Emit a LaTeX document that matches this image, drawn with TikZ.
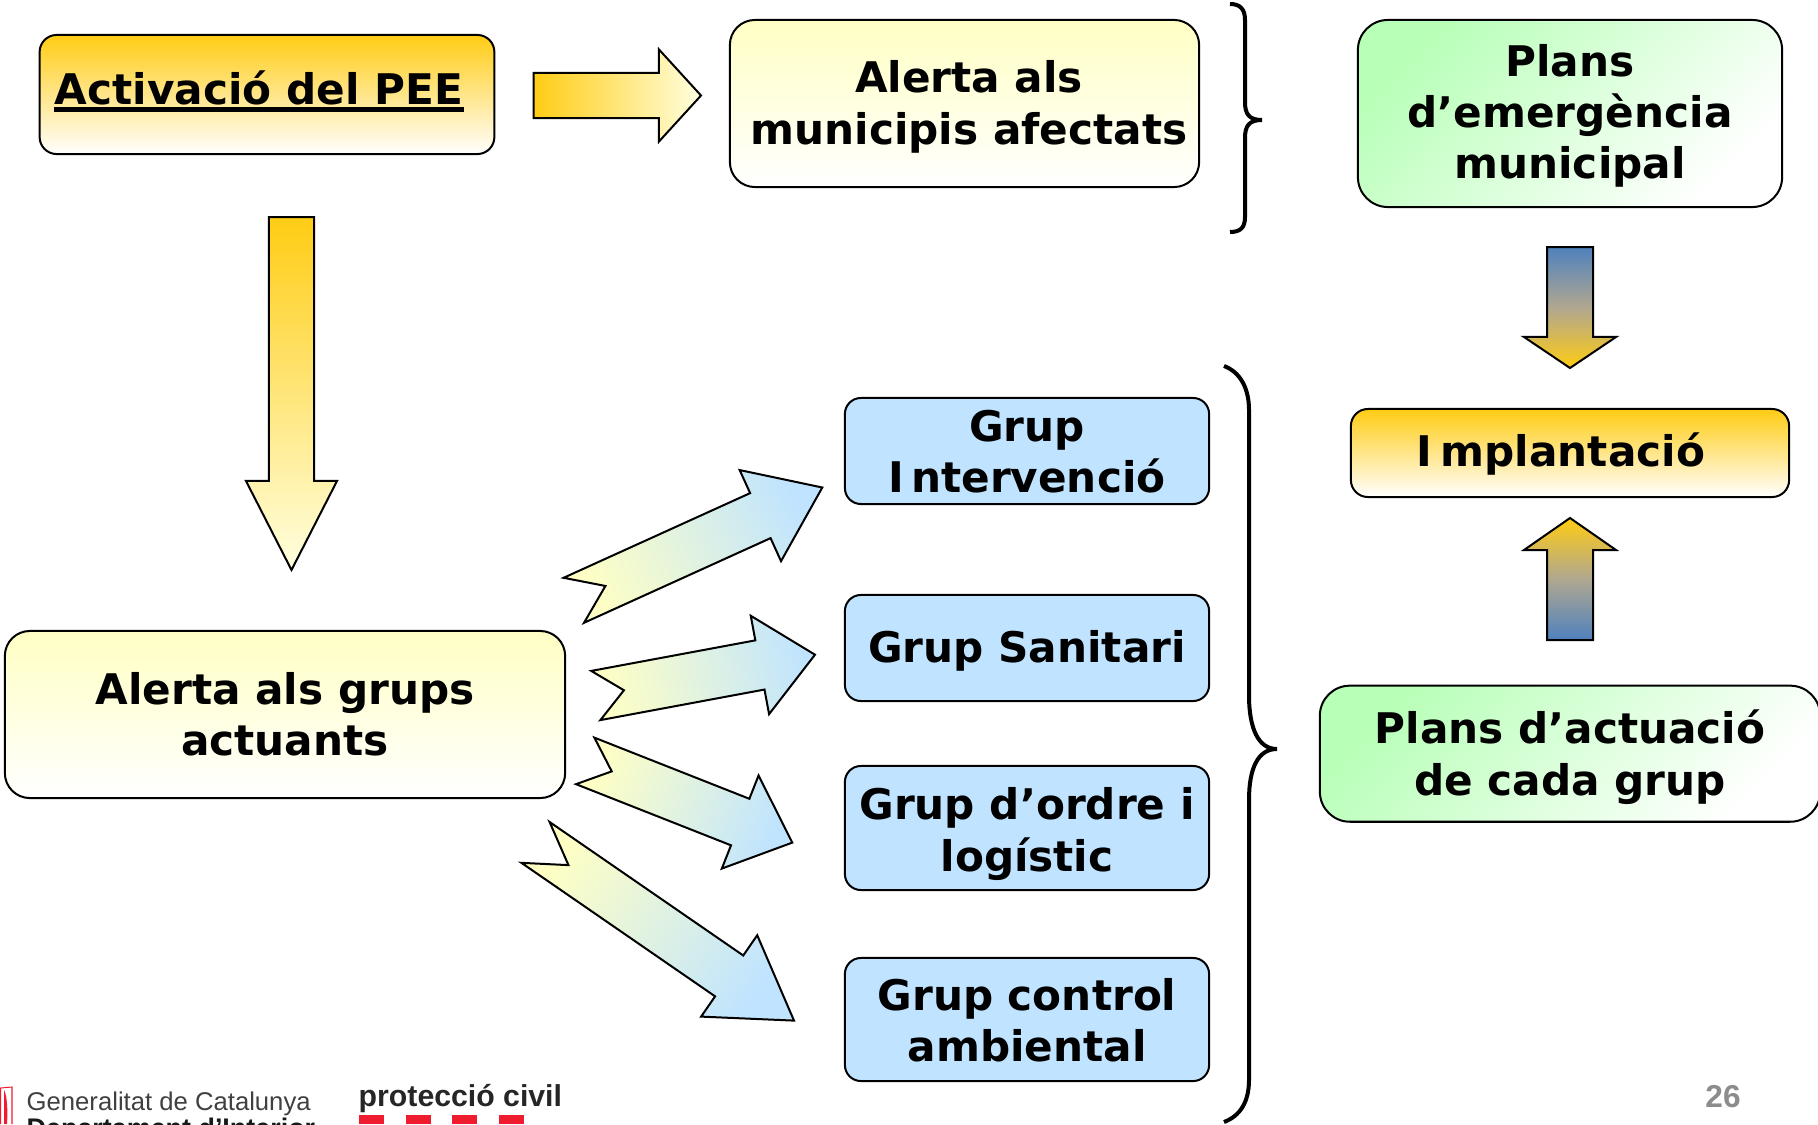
\documentclass[tikz,border=0pt]{standalone}
\usepackage{fontspec}
\setmainfont{DejaVu Sans}
\newfontfamily\footfont{Liberation Sans}
\usetikzlibrary{calc}
\definecolor{gold}{HTML}{FFCC14}
\definecolor{lemon}{HTML}{FFFFC4}
\definecolor{cream}{HTML}{FFFFE0}
\definecolor{sky}{HTML}{C0E4FF}
\definecolor{mint}{HTML}{B8FFB8}
\definecolor{steel}{HTML}{4F81BD}
\definecolor{dusk}{HTML}{B0A790}
\definecolor{logored}{HTML}{EE1C2E}
\tikzset{
	panel/.style={draw=black,line width=0.2mm,inner sep=0pt},
	goldpanel/.style={panel,top color=gold,bottom color=white,rounded corners=0.17cm},
	lemonpanel/.style={panel,top color=lemon,bottom color=white,rounded corners=0.25cm},
	skypanel/.style={panel,fill=sky,rounded corners=0.16cm},
	mintpanel/.style={panel,top color=mint,bottom color=white,shading angle=45,rounded corners=0.3cm},
	paneltext/.style={align=center,font=\fontsize{12}{14.6}\selectfont\bfseries,inner sep=0pt},
	footlabel/.style={inner sep=0pt,anchor=base west},
	brace/.style={draw=black,line width=0.4mm}
}
% block arrow: style, tail, head, half shaft, half head, head length, notch
\newcommand{\blockarrow}[7]{
	\coordinate (base) at ($(#3)!#6!(#2)$);
	\coordinate (notch) at ($(#2)!#7!(#3)$);
	\path[draw=black,line width=0.2mm,line join=miter,#1] ($(#2)!#4!90:(#3)$) -- (notch) -- ($(#2)!#4!-90:(#3)$) -- ($(base)!#4!-90:(#3)$) -- ($(base)!#5!-90:(#3)$) -- (#3) -- ($(base)!#5!90:(#3)$) -- ($(base)!#4!90:(#3)$) -- cycle;
}
\begin{document}
\begin{tikzpicture}[x=0.01cm,y=-0.01cm]
	\useasboundingbox (0,0) rectangle (1818,1124);
	%Left column
		\node[goldpanel,minimum width=4.545cm,minimum height=1.19cm] (activacio) at (267,94.5) {};
		\node[paneltext] (activaciotext) at (259,87.5) {Activació del PEE};
		\draw[line width=0.5mm] ($(activaciotext.base west)+(0,5)$) -- ($(activaciotext.base east)+(0,5)$);
		\node[lemonpanel,minimum width=5.6cm,minimum height=1.67cm] (grups) at (285,714.5) {};
		\node[paneltext] (grupstext) at (285,714.5) {Alerta als grups\\actuants};
	%Middle column
		\node[lemonpanel,minimum width=4.69cm,minimum height=1.67cm] (municipis) at (964.5,103.5) {};
		\node[paneltext] (municipistext) at (969,107) {Alerta als\\municipis afectats};
		\node[skypanel,minimum width=3.64cm,minimum height=1.06cm] (intervencio) at (1027,451) {};
		\node[paneltext] (intervenciotext) at (1027,451.5) {Grup\\I\kern2pt ntervenció};
		\node[skypanel,minimum width=3.64cm,minimum height=1.06cm] (sanitari) at (1027,648) {};
		\node[paneltext] (sanitaritext) at (1027,650.5) {Grup Sanitari};
		\node[skypanel,minimum width=3.64cm,minimum height=1.24cm] (ordre) at (1027,828) {};
		\node[paneltext] (ordretext) at (1027,834) {Grup d’ordre i\\logístic};
		\node[skypanel,minimum width=3.64cm,minimum height=1.23cm] (ambiental) at (1027,1019.5) {};
		\node[paneltext] (ambientaltext) at (1027,1020.5) {Grup control\\ambiental};
	%Right column
		\node[mintpanel,minimum width=4.24cm,minimum height=1.87cm] (emergencia) at (1570,113.5) {};
		\node[paneltext] (emergenciatext) at (1570,116) {Plans\\d’emergència\\municipal};
		\node[goldpanel,minimum width=4.38cm,minimum height=0.88cm] (implantacio) at (1570,453) {};
		\node[paneltext] (implantaciotext) at (1561,454) {I\kern2.3pt mplantació};
		\node[mintpanel,minimum width=5.0cm,minimum height=1.36cm] (actuacio) at (1570,753.7) {};
		\node[paneltext] (actuaciotext) at (1570,757) {Plans d’actuació\\de cada grup};
	%Arrow ends
		\coordinate (activaciotail) at (533.5,95.5);
		\coordinate (activaciohead) at (701,95.5);
		\coordinate (grupstail) at (291.5,217);
		\coordinate (grupshead) at (291.5,570);
		\coordinate (emergenciatail) at (1570,247);
		\coordinate (emergenciahead) at (1570,368);
		\coordinate (actuaciotail) at (1570,640);
		\coordinate (actuaciohead) at (1570,518);
		\coordinate (intervenciotail) at (573.8,600.3);
		\coordinate (intervenciohead) at (822.3,487.5);
		\coordinate (sanitaritail) at (595.8,695.5);
		\coordinate (sanitarihead) at (815,654.7);
		\coordinate (ordretail) at (585.2,760.9);
		\coordinate (ordrehead) at (792.3,842.6);
		\coordinate (ambientaltail) at (535.5,842.4);
		\coordinate (ambientalhead) at (794,1020.6);
	%Block arrows
		\blockarrow{bottom color=gold,top color=cream,shading angle=-90}{activaciotail}{activaciohead}{0.225cm}{0.46cm}{0.42cm}{0cm}
		\blockarrow{top color=gold,bottom color=cream}{grupstail}{grupshead}{0.225cm}{0.455cm}{0.89cm}{0cm}
		\blockarrow{top color=steel,bottom color=gold,middle color=dusk}{emergenciatail}{emergenciahead}{0.23cm}{0.46cm}{0.31cm}{0cm}
		\blockarrow{bottom color=steel,top color=gold,middle color=dusk}{actuaciotail}{actuaciohead}{0.23cm}{0.46cm}{0.32cm}{0cm}
		\blockarrow{bottom color=lemon,top color=sky,shading angle=-65.5}{intervenciotail}{intervenciohead}{0.247cm}{0.5cm}{0.68cm}{0.347cm}
		\blockarrow{bottom color=lemon,top color=sky,shading angle=-79.5}{sanitaritail}{sanitarihead}{0.25cm}{0.5cm}{0.56cm}{0.286cm}
		\blockarrow{bottom color=lemon,top color=sky,shading angle=-111.5}{ordretail}{ordrehead}{0.25cm}{0.5cm}{0.56cm}{0.285cm}
		\blockarrow{bottom color=lemon,top color=sky,shading angle=-124.6}{ambientaltail}{ambientalhead}{0.248cm}{0.494cm}{0.787cm}{0.4cm}
	%Braces
		\draw[brace] (1230,4) .. controls (1240,4) and (1245,9) .. (1245,20) -- (1245,102) .. controls (1245,114) and (1249,120) .. (1262,120) .. controls (1249,120) and (1245,126) .. (1245,138) -- (1245,217) .. controls (1245,228) and (1240,232) .. (1230,232);
		\draw[brace] (1224,366) .. controls (1240,372) and (1249,388) .. (1249,410) -- (1249,695) .. controls (1249,728) and (1258,749) .. (1277,749) .. controls (1258,749) and (1249,768) .. (1249,800) -- (1249,1080) .. controls (1249,1102) and (1240,1116) .. (1224,1122);
	%Footer
		\draw[logored,line width=0.1mm] (0.5,1124) -- (0.5,1088) -- (12,1087) -- (12,1124);
		\fill[logored] (4,1090) .. controls (7,1095) and (8,1110) .. (7,1124) -- (4,1124) -- cycle;
		\node[footlabel,text=black!75,font=\footfont\fontsize{7.3}{8}\selectfont] (generalitat) at (26,1110) {Generalitat de Catalunya};
		\node[footlabel,text=black!90,font=\footfont\fontsize{7.65}{8}\selectfont\bfseries] (departament) at (26,1137) {Departament d’Interior};
		\node[footlabel,text=black!85,font=\footfont\fontsize{8.6}{9}\selectfont\bfseries] (proteccio) at (358,1106) {protecció civil};
		\foreach \x in {359,406,452,499}
			\fill[logored] (\x,1115) rectangle (\x+25,1124);
		\node[inner sep=0pt,text=black!45,font=\footfont\fontsize{9}{10}\selectfont\bfseries] (pagina) at (1723,1097) {26};
\end{tikzpicture}
\end{document}
